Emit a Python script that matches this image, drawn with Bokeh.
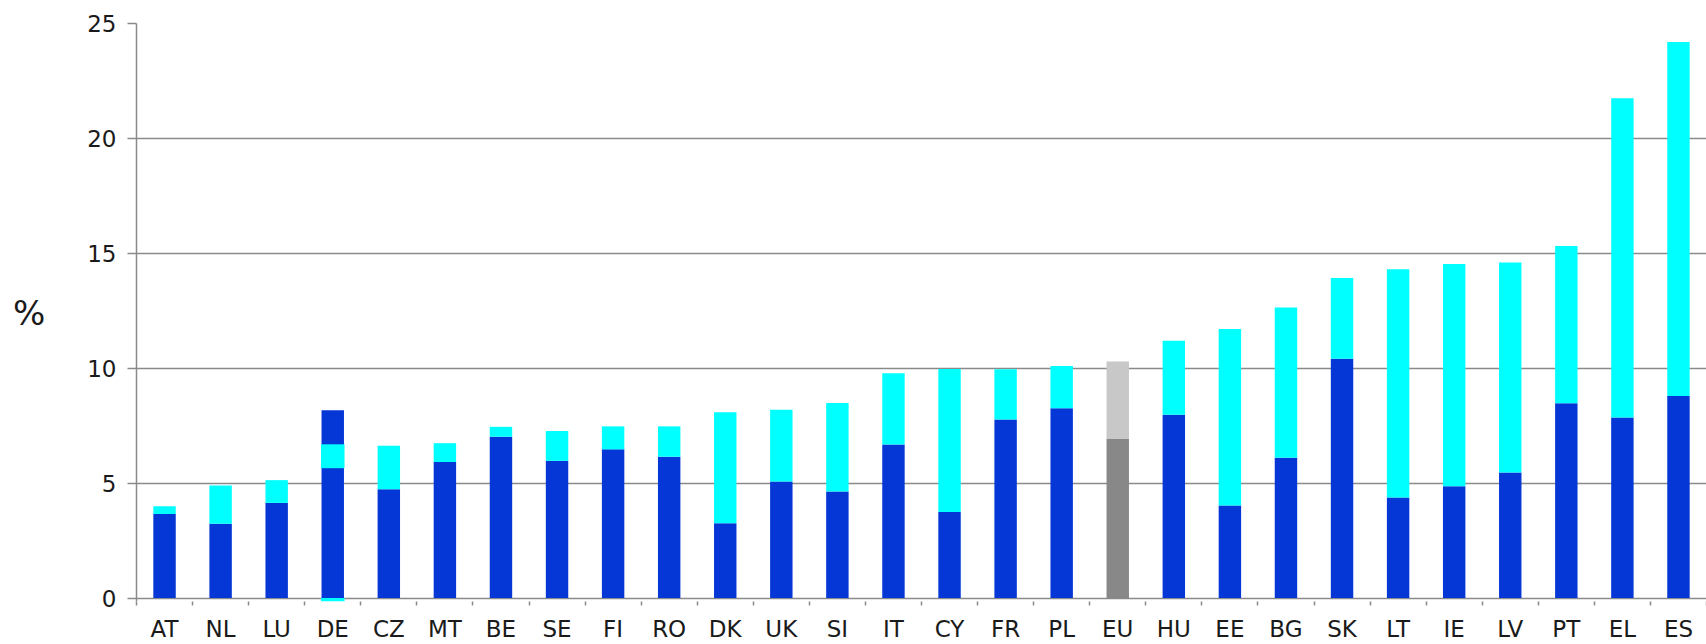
from bokeh.plotting import figure
from bokeh.models import Range1d, FixedTicker, CustomJSTickFormatter
from bokeh.embed import file_html
from bokeh.resources import INLINE

# Data (%)
countries = ["AT", "NL", "LU", "DE", "CZ", "MT", "BE", "SE", "FI", "RO",
             "DK", "UK", "SI", "IT", "CY", "FR", "PL", "EU", "HU", "EE",
             "BG", "SK", "LT", "IE", "LV", "PT", "EL", "ES"]
lower = [3.66, 3.23, 4.14, 8.17, 4.73, 5.92, 7.02, 5.97, 6.47, 6.15,
         3.25, 5.07, 4.64, 6.68, 3.74, 7.77, 8.26, 6.92, 7.98, 4.03,
         6.10, 10.41, 4.37, 4.86, 5.46, 8.48, 7.86, 8.79]
total = [3.99, 4.90, 5.13, 8.17, 6.63, 6.74, 7.45, 7.27, 7.47, 7.47,
         8.08, 8.19, 8.49, 9.78, 9.97, 9.96, 10.10, 10.29, 11.20, 11.71,
         12.64, 13.93, 14.31, 14.54, 14.60, 15.32, 21.75, 24.20]
# DE: upper segment shown as a band inside the bar, plus a small negative part
de_band_bottom = [5.65, -0.15]
de_band_top = [6.69, 0.0]
y_ticks = [0, 5, 10, 15, 20, 25]

FONT = "DejaVu Sans"
GRID = "#8a8a8a"
TEXT = "#1a1a1a"

x = [i + 0.5 for i in range(len(countries))]
dark = ["#888888" if c == "EU" else "#0437D6" for c in countries]
light = ["#C8C8C8" if c == "EU" else "#00FFFF" for c in countries]

p = figure(width=1706, height=644, output_backend="svg", toolbar_location=None,
           x_range=Range1d(0, len(countries)), y_range=Range1d(-0.15, 25),
           min_border_left=136, min_border_right=0, min_border_top=23,
           min_border_bottom=34)
p.outline_line_color = None
p.background_fill_color = "white"
p.border_fill_color = "white"

p.vbar(x=x, width=0.4, bottom=0, top=lower, fill_color=dark, line_color=None)
p.vbar(x=x, width=0.4, bottom=lower, top=total, fill_color=light, line_color=None)
de_i = countries.index("DE")
p.vbar(x=[x[de_i]] * len(de_band_bottom), width=0.42, bottom=de_band_bottom,
       top=de_band_top, fill_color="#00FFFF", line_color=None)

# y axis
p.yaxis.ticker = FixedTicker(ticks=y_ticks)
p.yaxis.minor_tick_line_color = None
p.yaxis.major_tick_out = 9
p.yaxis.major_tick_in = 0
p.yaxis.axis_line_color = GRID
p.yaxis.axis_line_width = 1.5
p.yaxis.major_tick_line_color = GRID
p.yaxis.major_tick_line_width = 1.5
p.yaxis.major_label_standoff = 11
p.yaxis.major_label_text_font = FONT
p.yaxis.major_label_text_font_size = "23px"
p.yaxis.major_label_text_color = TEXT
p.yaxis.axis_label = "%"
p.yaxis.axis_label_orientation = "horizontal"
p.yaxis.axis_label_text_font = FONT
p.yaxis.axis_label_text_font_size = "34px"
p.yaxis.axis_label_text_font_style = "normal"
p.yaxis.axis_label_text_color = TEXT
p.yaxis.axis_label_standoff = 39

# grid
p.ygrid.ticker = FixedTicker(ticks=y_ticks)
p.ygrid.grid_line_color = GRID
p.ygrid.grid_line_width = 1.5
p.xgrid.grid_line_color = None

# x axis: labels at bar centres, ticks at category boundaries
p.xaxis.ticker = FixedTicker(ticks=x, minor_ticks=list(range(len(countries) + 1)))
p.xaxis.formatter = CustomJSTickFormatter(args=dict(labels=countries),
                                          code="return labels[Math.round(tick - 0.5)];")
p.xaxis.axis_line_color = None
p.xaxis.major_tick_out = 0
p.xaxis.major_tick_in = 0
p.xaxis.minor_tick_out = 4
p.xaxis.minor_tick_in = 0
p.xaxis.minor_tick_line_color = GRID
p.xaxis.minor_tick_line_width = 1.5
p.xaxis.major_label_standoff = 10
p.xaxis.major_label_text_font = FONT
p.xaxis.major_label_text_font_size = "23px"
p.xaxis.major_label_text_color = TEXT

open("out.html", "w").write(file_html(p, INLINE))
